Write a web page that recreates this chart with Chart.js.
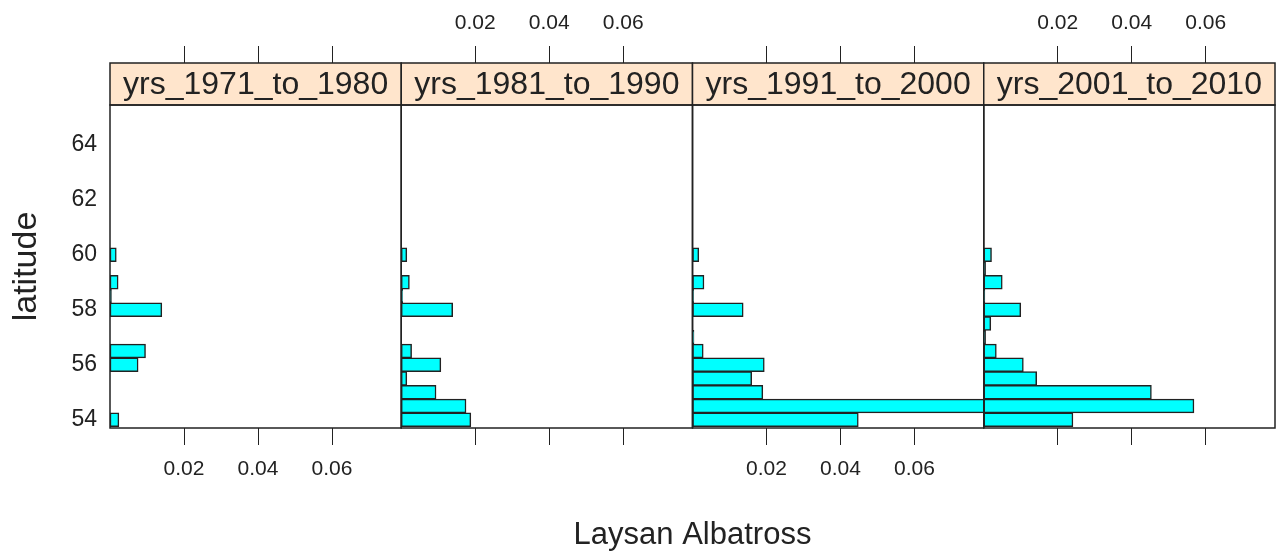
<!DOCTYPE html>
<html>
<head>
<meta charset="utf-8">
<title>Laysan Albatross by latitude</title>
<script src="https://cdn.jsdelivr.net/npm/chart.js@4.4.1/dist/chart.umd.min.js"></script>
<style>
  html, body { margin: 0; padding: 0; background: #fff; }
  #wrap { width: 1282px; height: 554px; }
</style>
</head>
<body>
<div id="wrap"><canvas id="chart" width="1282" height="554"></canvas></div>
<script>
// panels (decades) and latitude bins
const panelLabels = ['yrs_1971_to_1980', 'yrs_1981_to_1990', 'yrs_1991_to_2000', 'yrs_2001_to_2010'];
const latitudes = [54, 54.5, 55, 55.5, 56, 56.5, 57, 57.5, 58, 58.5, 59, 59.5, 60];

// proportion of Laysan Albatross per latitude bin
const yrs1971to1980 = [0.0024, 0, 0, 0, 0.0076, 0.0096, 0, 0, 0.0140, 0.0004, 0.0022, 0, 0.0017];
const yrs1981to1990 = [0.0188, 0.0175, 0.0094, 0.0015, 0.0107, 0.0028, 0, 0, 0.0139, 0.0004, 0.0022, 0, 0.0015];
const yrs1991to2000 = [0.0448, 0.0820, 0.0190, 0.0160, 0.0194, 0.0029, 0.0004, 0, 0.0137, 0.0003, 0.0031, 0, 0.0017];
const yrs2001to2010 = [0.0241, 0.0568, 0.0453, 0.0143, 0.0107, 0.0034, 0.0005, 0.0019, 0.0100, 0.0003, 0.0050, 0.0005, 0.0021];

const xTicks = [0.02, 0.04, 0.06];
const yTicks = [54, 56, 58, 60, 62, 64];
const xRange = [0, 0.0787];
const yRange = [53.7, 65.45];

const FONT = "'Liberation Sans', Arial, Helvetica, sans-serif";
const INK = '#222';
const STRIP_H = 42;

const series = [yrs1971to1980, yrs1981to1990, yrs1991to2000, yrs2001to2010];

const scales = {
    y: {
        type: 'linear',
        position: 'left',
        min: yRange[0],
        max: yRange[1],
        offset: false,
        afterBuildTicks: s => { s.ticks = yTicks.map(v => ({ value: v })); },
        afterFit: s => { s.width = 106; },
        grid: { display: false, drawTicks: false, offset: false },
        border: { display: false },
        ticks: { color: INK, font: { family: FONT, size: 23 }, padding: 13 },
        title: {
            display: true, text: 'latitude', color: INK,
            font: { family: FONT, size: 34 }, padding: { top: 2, bottom: 0 }
        }
    }
};

panelLabels.forEach((lbl, i) => {
    const labelsBelow = i % 2 === 0;
    ['b', 't'].forEach(side => {
        const bottom = side === 'b';
        // the top stack is laid out right-to-left, so flip which ones carry labels
        const showLabels = bottom ? labelsBelow : labelsBelow;
        scales['x' + side + i] = {
            type: 'linear',
            position: bottom ? 'bottom' : 'top',
            stack: side,
            stackWeight: 1,
            min: xRange[0],
            max: xRange[1],
            afterBuildTicks: s => { s.ticks = xTicks.map(v => ({ value: v })); },
            afterFit: s => { s.height = bottom ? 62 : 97; },
            grid: {
                drawOnChartArea: false,
                drawTicks: true,
                tickLength: bottom ? 17 : 59,
                color: INK,
                lineWidth: 1
            },
            border: { display: false },
            ticks: {
                color: showLabels ? INK : 'rgba(0,0,0,0)',
                font: { family: FONT, size: 21 },
                padding: bottom ? 12 : 10,
                maxRotation: 0,
                autoSkip: false,
                callback: v => String(Number(v.toFixed(2)))
            }
        };
    });
});

const panelFrames = {
    id: 'panelFrames',
    afterDraw(chart) {
        const { ctx, chartArea } = chart;
        ctx.save();
        panelLabels.forEach((lbl, i) => {
            const s = chart.scales['xb' + i];
            const w = s.right - s.left;
            ctx.fillStyle = '#ffe5cc';
            ctx.fillRect(s.left, chartArea.top - STRIP_H, w, STRIP_H);
            ctx.strokeStyle = INK;
            ctx.lineWidth = 1.5;
            ctx.strokeRect(s.left, chartArea.top - STRIP_H, w, STRIP_H);
            ctx.strokeRect(s.left, chartArea.top, w, chartArea.bottom - chartArea.top);
            ctx.fillStyle = INK;
            ctx.font = '32px ' + FONT;
            ctx.textAlign = 'center';
            ctx.textBaseline = 'middle';
            ctx.fillText(lbl, (s.left + s.right) / 2, chartArea.top - STRIP_H / 2 + 1);
        });
        ctx.restore();
    }
};

new Chart(document.getElementById('chart'), {
    type: 'bar',
    data: {
        datasets: series.map((vals, i) => ({
            label: panelLabels[i],
            data: latitudes.map((lat, k) => ({ x: vals[k], y: lat })),
            xAxisID: 'xb' + i,
            yAxisID: 'y',
            backgroundColor: '#00ffff',
            borderColor: INK,
            borderWidth: 1.5,
            borderSkipped: false,
            grouped: false,
            categoryPercentage: 1,
            barPercentage: 1,
            order: 4 - i
        }))
    },
    options: {
        indexAxis: 'y',
        responsive: false,
        animation: false,
        devicePixelRatio: 1,
        layout: { padding: { top: 8, left: 4, right: 7, bottom: 0 } },
        plugins: {
            legend: { display: false },
            tooltip: { enabled: false },
            title: {
                display: true,
                text: 'Laysan Albatross',
                position: 'bottom',
                fullSize: false,
                color: INK,
                font: { family: FONT, size: 31, weight: 'normal', lineHeight: 1 },
                padding: { top: 30, bottom: 3 }
            }
        },
        scales: scales
    },
    plugins: [panelFrames]
});
</script>
</body>
</html>
